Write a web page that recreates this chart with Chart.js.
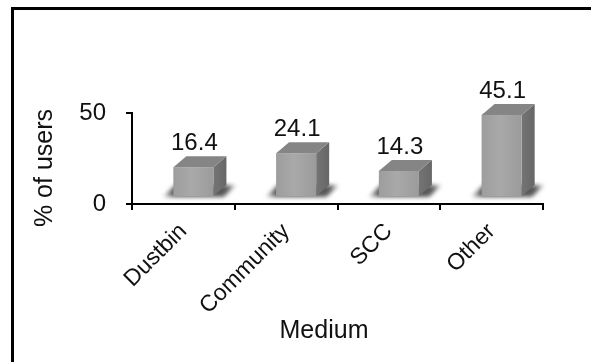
<!DOCTYPE html>
<html>
<head>
<meta charset="utf-8">
<script src="https://cdn.jsdelivr.net/npm/chart.js@4.4.1/dist/chart.umd.min.js"></script>
<style>
  html, body { margin: 0; padding: 0; background: #fff; overflow: hidden; }
  #frame { position: absolute; left: 11px; top: 7px; width: 640px; height: 420px;
           border-left: 3px solid #000; border-top: 3px solid #000; }
  #wrap { position: absolute; left: 0; top: 0; width: 591px; height: 362px; }
</style>
</head>
<body>
<div id="frame"></div>
<div id="wrap"><canvas id="c" width="591" height="362"></canvas></div>
<script>
// Share of users by disposal medium (%)
const categories = ['Dustbin', 'Community', 'SCC', 'Other'];
const shares = [16.4, 24.1, 14.3, 45.1];
const yTicks = [0, 50];
const yTitle = '% of users';
const xTitle = 'Medium';

const FONT = '"Liberation Sans", Arial, sans-serif';

// Box projection: front face sits slightly behind the axis, depth goes up-right
const FRONT_DX = 10, FRONT_DY = -7;
const DEPTH_DX = 13, DEPTH_DY = -11;

const bars3d = {
  id: 'bars3d',
  afterDatasetsDraw(chart) {
    const ctx = chart.ctx;
    const meta = chart.getDatasetMeta(0);
    meta.data.forEach((bar, i) => {
      const xl = bar.x - bar.width / 2 + FRONT_DX;
      const xr = bar.x + bar.width / 2 + FRONT_DX;
      const top = bar.y + FRONT_DY;
      const bot = bar.base + FRONT_DY;

      // soft floor shadow around the footprint
      ctx.save();
      ctx.filter = 'blur(2px)';
      const sg = ctx.createLinearGradient(xl - 12, 0, xr + DEPTH_DX + 12, 0);
      sg.addColorStop(0, 'rgba(70,70,70,0)');
      sg.addColorStop(0.15, 'rgba(70,70,70,0.9)');
      sg.addColorStop(0.85, 'rgba(70,70,70,0.9)');
      sg.addColorStop(1, 'rgba(70,70,70,0)');
      ctx.fillStyle = sg;
      ctx.beginPath();
      ctx.moveTo(xl - 11, bot + 1);
      ctx.lineTo(xr + 10, bot + 1);
      ctx.lineTo(xr + DEPTH_DX + 10, bot + DEPTH_DY);
      ctx.lineTo(xl + DEPTH_DX - 11, bot + DEPTH_DY);
      ctx.closePath();
      ctx.fill();
      ctx.restore();

      // side face
      ctx.save();
      const sideG = ctx.createLinearGradient(xr, 0, xr + DEPTH_DX, 0);
      sideG.addColorStop(0, '#747474');
      sideG.addColorStop(1, '#676767');
      ctx.fillStyle = sideG;
      ctx.beginPath();
      ctx.moveTo(xr, top);
      ctx.lineTo(xr + DEPTH_DX, top + DEPTH_DY);
      ctx.lineTo(xr + DEPTH_DX, bot + DEPTH_DY);
      ctx.lineTo(xr, bot);
      ctx.closePath();
      ctx.fill();

      // top face
      ctx.fillStyle = '#858585';
      ctx.beginPath();
      ctx.moveTo(xl, top);
      ctx.lineTo(xl + DEPTH_DX, top + DEPTH_DY);
      ctx.lineTo(xr + DEPTH_DX, top + DEPTH_DY);
      ctx.lineTo(xr, top);
      ctx.closePath();
      ctx.fill();

      // front face
      const fg = ctx.createLinearGradient(xl, 0, xr, 0);
      fg.addColorStop(0, '#9d9d9d');
      fg.addColorStop(0.45, '#a9a9a9');
      fg.addColorStop(1, '#9b9b9b');
      ctx.fillStyle = fg;
      ctx.fillRect(xl, top, xr - xl, bot - top);

      // value label
      ctx.fillStyle = '#111';
      ctx.font = '24px ' + FONT;
      ctx.textAlign = 'center';
      ctx.textBaseline = 'alphabetic';
      ctx.fillText(String(shares[i]), (xl + xr) / 2 + 1, top + DEPTH_DY - 6);
      ctx.restore();
    });

    // axis titles
    const area = chart.chartArea;
    ctx.save();
    ctx.fillStyle = '#111';
    ctx.font = '25px ' + FONT;
    ctx.textAlign = 'center';
    ctx.textBaseline = 'middle';
    ctx.fillText(xTitle, area.left + 192, 331);
    ctx.translate(45, area.top + 55);
    ctx.rotate(-Math.PI / 2);
    ctx.fillText(yTitle, 0, 0);
    ctx.restore();
  }
};

new Chart(document.getElementById('c'), {
  type: 'bar',
  data: {
    labels: categories,
    datasets: [{
      data: shares,
      backgroundColor: 'rgba(0,0,0,0)',
      borderWidth: 0,
      categoryPercentage: 0.5,
      barPercentage: 0.78
    }]
  },
  options: {
    responsive: false,
    animation: false,
    devicePixelRatio: 1,
    layout: { padding: { left: 0, right: 48, top: 113, bottom: 0 } },
    plugins: { legend: { display: false }, tooltip: { enabled: false } },
    scales: {
      x: {
        grid: { drawOnChartArea: false, drawTicks: true, tickLength: 6, color: '#000', lineWidth: 2, offset: true },
        border: { color: '#000', width: 2 },
        ticks: { minRotation: 45, maxRotation: 45, color: '#111', padding: 8,
                 font: { family: FONT, size: 23 } },
        afterFit: s => { s.height = 158; }
      },
      y: {
        min: 0, max: 50,
        afterBuildTicks: s => { s.ticks = yTicks.map(v => ({ value: v })); },
        grid: { drawOnChartArea: false, tickLength: 6, color: '#000', lineWidth: 2 },
        border: { color: '#000', width: 2 },
        ticks: { color: '#111', padding: 20, font: { family: FONT, size: 24 } },
        afterFit: s => { s.width = 132; }
      }
    }
  },
  plugins: [bars3d]
});
</script>
</body>
</html>
